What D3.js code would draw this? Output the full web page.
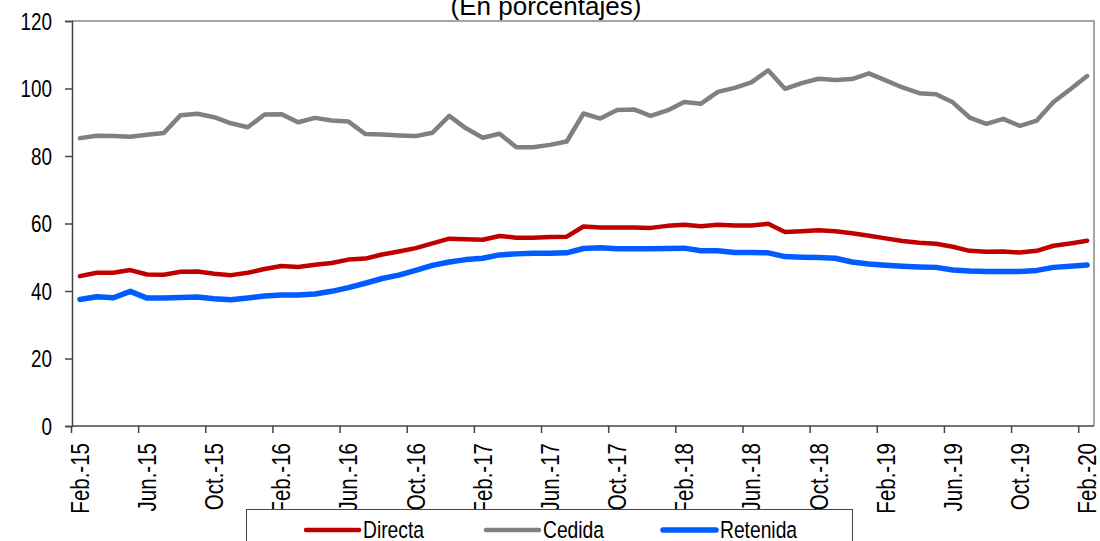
<!DOCTYPE html>
<html>
<head>
<meta charset="utf-8">
<title>Tasa de comisión</title>
<script src="https://d3js.org/d3.v7.min.js"></script>
<style>
  body { margin: 0; background: #fff; }
  text { font-family: "Liberation Sans", Arial, sans-serif; fill: #000; }
</style>
</head>
<body>
<svg id="chart" width="1100" height="541"></svg>
<script>
// monthly series, Feb.-15 .. Feb.-20 (61 points)
var firstMonth = new Date(2015, 1, 1)
var lastMonth = new Date(2020, 1, 1)

var directa = [44.4,45.4,45.4,46.2,44.9,44.8,45.7,45.8,45.1,44.7,45.4,46.5,47.4,47.1,47.8,48.3,
  49.3,49.6,50.8,51.7,52.7,54.1,55.5,55.3,55.2,56.3,55.8,55.8,56.0,56.1,59.1,
  58.8,58.8,58.8,58.7,59.3,59.6,59.2,59.6,59.4,59.4,59.9,57.5,57.7,58.0,57.7,
  57.1,56.4,55.6,54.8,54.3,54.0,53.1,51.9,51.6,51.7,51.4,51.9,53.4,54.1,54.9]

var cedida = [85.3,86.0,85.9,85.7,86.3,86.8,92.1,92.5,91.5,89.7,88.5,92.3,92.4,90.0,91.3,90.5,
  90.2,86.5,86.4,86.1,85.9,86.9,91.9,88.2,85.4,86.6,82.6,82.6,83.3,84.3,92.6,
  91.1,93.6,93.8,91.9,93.5,96.0,95.5,99.0,100.2,101.8,105.4,99.9,101.6,102.9,102.5,
  102.8,104.5,102.4,100.3,98.6,98.3,95.9,91.4,89.5,91.0,88.9,90.5,96.0,99.8,103.7]

var retenida = [37.5,38.3,38.0,39.9,37.9,37.9,38.1,38.2,37.7,37.4,37.9,38.5,38.8,38.8,39.1,39.9,
  41.0,42.3,43.7,44.7,46.1,47.6,48.6,49.3,49.7,50.7,51.0,51.2,51.2,51.3,52.6,
  52.8,52.5,52.5,52.5,52.6,52.7,51.9,51.9,51.4,51.4,51.3,50.2,50.0,49.9,49.7,
  48.6,48.0,47.6,47.3,47.1,47.0,46.2,45.9,45.8,45.8,45.8,46.1,47.0,47.3,47.7]

var tickLabels = ["Feb.-15","Jun.-15","Oct.-15","Feb.-16","Jun.-16","Oct.-16","Feb.-17","Jun.-17",
  "Oct.-17","Feb.-18","Jun.-18","Oct.-18","Feb.-19","Jun.-19","Oct.-19","Feb.-20"]
var yTicks = [0, 20, 40, 60, 80, 100, 120]

var seriesNames = ["Directa", "Cedida", "Retenida"]
var seriesColors = ["#c00000", "#808080", "#005cff"]
var seriesWidths = [4.5, 4.5, 5.5]

var months = d3.timeMonth.range(firstMonth, d3.timeMonth.offset(lastMonth, 1))

var plotL = 72, plotR = 1094, plotT = 21, plotB = 426
var narrow = 0.82   // squeeze to look like Arial Narrow

var x = d3.scaleBand()
  .domain(months)
  .range([plotL - 0.5, plotR + 1.5])

var y = d3.scaleLinear()
  .domain([0, 120])
  .range([plotB, plotT])

var svg = d3.select("#chart")

// title (top part is cut off in the original)
svg.append("text")
  .attr("x", 546)
  .attr("y", 15)
  .attr("text-anchor", "middle")
  .style("font-size", "26px")
  .text("(En porcentajes)")

// frame: top and right borders
svg.append("path")
  .attr("d", "M" + plotL + "," + plotT + "H" + plotR + "V" + plotB)
  .attr("fill", "none")
  .attr("stroke", "#888")
  .attr("stroke-width", 1.5)

// y axis
var yAxis = d3.axisLeft(y)
  .tickValues(yTicks)
  .tickSize(7)
  .tickPadding(12)
svg.append("g")
  .attr("transform", "translate(" + plotL + ",0)")
  .call(yAxis)
  .call(function(g) {
    g.selectAll("path, line").attr("stroke", "#444").attr("stroke-width", 1.5)
    g.selectAll("text")
      .style("font-size", "23px")
      .attr("x", null)
      .attr("dy", null)
      .attr("transform", "translate(-20,8) scale(" + narrow + ",1)")
  })

// x axis: ticks at start of every 4th month, labels centered on the month
var tickMonths = months.filter(function(d, i) { return i % 4 == 0 })
var xg = svg.append("g")
xg.append("line")
  .attr("x1", plotL).attr("x2", plotR)
  .attr("y1", plotB).attr("y2", plotB)
  .attr("stroke", "#444").attr("stroke-width", 1.5)
xg.selectAll(".tick")
  .data(tickMonths)
  .enter()
  .append("line")
    .attr("x1", function(d) { return x(d) })
    .attr("x2", function(d) { return x(d) })
    .attr("y1", plotB)
    .attr("y2", plotB + 7)
    .attr("stroke", "#444").attr("stroke-width", 1.5)
xg.selectAll(".lbl")
  .data(tickMonths)
  .enter()
  .append("text")
    .attr("transform", function(d) {
      return "translate(" + (x(d) + x.bandwidth() / 2 + 9) + "," + (plotB + 17) + ") rotate(-90) scale(" + narrow + ",1)"
    })
    .attr("text-anchor", "end")
    .style("font-size", "25px")
    .text(function(d, i) { return tickLabels[i] })

// lines
var line = d3.line()
  .x(function(d, i) { return x(months[i]) + x.bandwidth() / 2 })
  .y(function(d) { return y(d) })

var allSeries = [directa, cedida, retenida]
// cedida first, then directa, retenida on top
;[1, 0, 2].forEach(function(k) {
  svg.append("path")
    .datum(allSeries[k])
    .attr("d", line)
    .attr("fill", "none")
    .attr("stroke", seriesColors[k])
    .attr("stroke-width", seriesWidths[k])
    .attr("stroke-linejoin", "round")
    .attr("stroke-linecap", "round")
})

// legend box, drawn over the x labels
var legend = svg.append("g")
legend.append("rect")
  .attr("x", 246.5).attr("y", 509.5)
  .attr("width", 606).attr("height", 60)
  .attr("fill", "#fff")
  .attr("stroke", "#444")
  .attr("stroke-width", 1)

var legendX = [306, 486, 663]
seriesNames.forEach(function(name, i) {
  legend.append("line")
    .attr("x1", legendX[i]).attr("x2", legendX[i] + 53)
    .attr("y1", 530).attr("y2", 530)
    .attr("stroke", seriesColors[i])
    .attr("stroke-width", seriesWidths[i])
    .attr("stroke-linecap", "round")
  legend.append("text")
    .attr("transform", "translate(" + (legendX[i] + 57) + ",538) scale(" + narrow + ",1)")
    .style("font-size", "23.5px")
    .text(name)
})
</script>
</body>
</html>
